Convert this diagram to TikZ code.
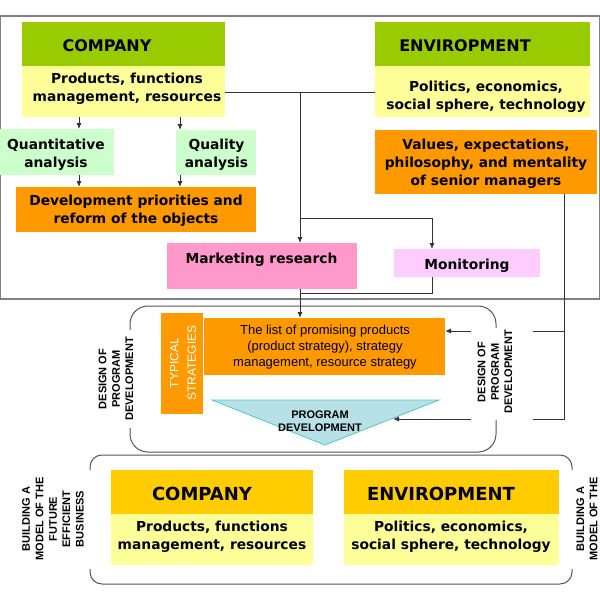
\documentclass[tikz,border=0pt]{standalone}
\usepackage{fontspec}
\setmainfont{DejaVu Sans}
\newfontfamily\arialf{Liberation Sans}
\usetikzlibrary{arrows.meta}
\definecolor{hgreen}{HTML}{99CC00}
\definecolor{byellow}{HTML}{FFFF99}
\definecolor{lgreen}{HTML}{CCFFCC}
\definecolor{orng}{HTML}{FF9900}
\definecolor{pinkc}{HTML}{FF99CC}
\definecolor{lpink}{HTML}{FFCCFF}
\definecolor{gold}{HTML}{FFCC00}
\definecolor{trifill}{HTML}{B7E1E6}
\definecolor{triedge}{HTML}{4CC8CC}
\definecolor{linec}{HTML}{333333}
\definecolor{framec}{HTML}{808080}
\definecolor{framed}{HTML}{555555}
\newcommand\fbody{\fontsize{13.8}{18}\selectfont\bfseries}
\newcommand\fhead{\fontsize{16}{19}\selectfont\bfseries}
\newcommand\fheadb{\fontsize{18}{21}\selectfont\bfseries}
\newcommand\flist{\arialf\fontsize{13}{16}\selectfont}
\newcommand\fsmall{\arialf\bfseries\fontsize{11}{13.4}\selectfont}
\newcommand\ftyp{\arialf\fontsize{12}{17.5}\selectfont}
\begin{document}
\begin{tikzpicture}[x=1pt,y=-1pt,
  box/.style={draw=none,inner sep=0pt,outer sep=0pt,anchor=north west},
  lbl/.style={inner sep=0pt,outer sep=0pt,align=center,text=black},
  conn/.style={draw=linec,line width=0.9pt},
  arr/.style={conn,-{Latex[length=6pt,width=5pt]}},
  topframe/.style={draw=framec,line width=1.4pt},
  midframe/.style={draw=framed,line width=1pt}]
\useasboundingbox (0,0) rectangle (600,600);

% top frame
\draw[topframe] (0.7,16) rectangle (599.3,299);

% boxes top
\node[box,fill=hgreen,minimum width=203pt,minimum height=44pt] (ch) at (22,22) {};
\node[box,fill=byellow,minimum width=203pt,minimum height=51pt] (cb) at (22,66) {};
\node[box,fill=lgreen,minimum width=114pt,minimum height=46pt] (qa) at (0,129) {};
\node[box,fill=lgreen,minimum width=80pt,minimum height=45pt] (ql) at (176,130) {};
\node[box,fill=orng,minimum width=240pt,minimum height=45pt] (dv) at (16,187) {};
\node[box,fill=pinkc,minimum width=190pt,minimum height=46pt] (mk) at (167,243) {};
\node[box,fill=lpink,minimum width=146pt,minimum height=28pt] (mo) at (394,249) {};
\node[box,fill=hgreen,minimum width=215pt,minimum height=44pt] (eh) at (375,22) {};
\node[box,fill=byellow,minimum width=215pt,minimum height=51pt] (eb) at (375,66) {};
\node[box,fill=orng,minimum width=222pt,minimum height=64pt] (va) at (375,130) {};

% texts top
\node[lbl,font=\fhead] (tch) at (107,46) {COMPANY};
\node[lbl,font=\fbody] (tcb) at (127,88.5) {Products, functions\\management, resources};
\node[lbl,font=\fbody] (tqa) at (56,154.5) {Quantitative\\analysis};
\node[lbl,font=\fbody] (tql) at (216.5,154.5) {Quality\\analysis};
\node[lbl,font=\fbody] (tdv) at (136,210.5) {Development priorities and\\reform of the objects};
\node[lbl,font=\fbody] (tmk) at (261.5,259.5) {Marketing research};
\node[lbl,font=\fbody] (tmo) at (467,266) {Monitoring};
\node[lbl,font=\fhead] (teh) at (465,46) {ENVIROPMENT};
\node[lbl,font=\fbody] (teb) at (486,96.5) {Politics, economics,\\social sphere, technology};
\node[lbl,font=\fbody] (tva) at (486,163.5) {Values, expectations,\\philosophy, and mentality\\of senior managers};

% middle frame
\draw[midframe,rounded corners=18pt] (130,330) -- (130,306) -- (496,306) -- (496,328);
\draw[midframe,rounded corners=18pt] (496,420) -- (496,452) -- (130,452) -- (130,428);

% middle boxes
\node[box,fill=orng,minimum width=42pt,minimum height=101pt] (ts) at (161,313) {};
\node[box,fill=orng,minimum width=241pt,minimum height=57pt] (ls) at (204,318) {};
\filldraw[fill=trifill,draw=triedge,line width=0.8pt] (212,400) -- (439,400) -- (325,445) -- cycle;
\coordinate (tri) at (393,419);

\node[lbl,rotate=90,font=\ftyp,text=white] (tts) at (183,363) {TYPICAL\\STRATEGIES};
\node[lbl,font=\flist] (tls) at (325,347) {The list of promising products\\(product strategy), strategy\\management, resource strategy};
\node[lbl,font=\fsmall] (ttr) at (320,421) {PROGRAM\\DEVELOPMENT};
\node[lbl,rotate=90,font=\fsmall] (dl) at (116,379) {DESIGN OF\\PROGRAM\\DEVELOPMENT};
\node[lbl,rotate=90,font=\fsmall] (dr) at (495,372) {DESIGN OF\\PROGRAM\\DEVELOPMENT};

% bottom frame
\draw[midframe,rounded corners=12pt] (90,470) -- (90,455) -- (572,455) -- (572,470);
\draw[midframe,rounded corners=12pt] (572,569) -- (572,584) -- (90,584) -- (90,569);

% bottom boxes
\node[box,fill=gold,minimum width=202pt,minimum height=44pt] (bch) at (111,470) {};
\node[box,fill=byellow,minimum width=202pt,minimum height=51pt] (bcb) at (111,514) {};
\node[box,fill=gold,minimum width=215pt,minimum height=44pt] (beh) at (344,470) {};
\node[box,fill=byellow,minimum width=215pt,minimum height=51pt] (beb) at (344,514) {};
\node[lbl,font=\fheadb] (tbch) at (202,494) {COMPANY};
\node[lbl,font=\fbody] (tbcb) at (212,536.5) {Products, functions\\management, resources};
\node[lbl,font=\fheadb] (tbeh) at (441,494) {ENVIROPMENT};
\node[lbl,font=\fbody] (tbeb) at (451,537) {Politics, economics,\\social sphere, technology};
\node[lbl,rotate=90,font=\fsmall] (bl) at (53,519) {BUILDING A\\MODEL OF THE\\FUTURE\\EFFICIENT\\BUSINESS};
\node[lbl,rotate=90,font=\fsmall] (br) at (587,519) {BUILDING A\\MODEL OF THE};

% connectors
\draw[arr] (cb.south -| 79,0) -- (qa.north -| 79,0);
\draw[arr] (cb.south -| 180,0) -- (ql.north -| 180,0);
\draw[arr] (qa.south -| 79,0) -- (dv.north -| 79,0);
\draw[arr] (ql.south -| 180,0) -- (dv.north -| 180,0);
\coordinate (j1) at (300,92);
\coordinate (j2) at (300,218);
\coordinate (j3) at (300,293);
\draw[conn] (cb.east |- j1) -- (eb.west |- j1);
\draw[arr] (j1) -- (mk.north -| j1);
\draw[arr] (j2) -| (mo.north -| 432,0);
\draw[arr] (mk.south -| j1) -- (ls.north -| j1);
\draw[conn] (mo.south -| 432,0) |- (j3);
\coordinate (r0) at (564,419);
\coordinate (r1) at (533,331);
\coordinate (r2) at (471,331);
\coordinate (r3) at (533,419);
\coordinate (r4) at (471,419);
\draw[conn] (va.south -| r0) -- (r0) -- (r3);
\draw[conn] (r1 -| r0) -- (r1);
\draw[arr] (r2) -- (ls.east |- r2);
\draw[arr] (r4) -- (tri);
\end{tikzpicture}
\end{document}
